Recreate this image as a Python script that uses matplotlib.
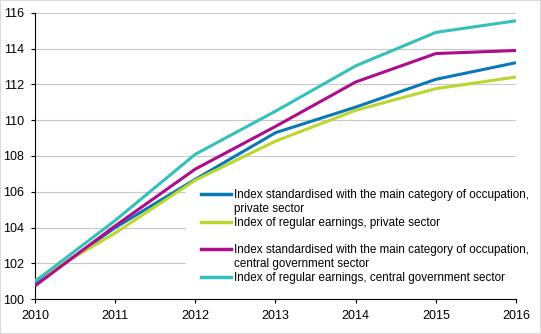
import matplotlib
matplotlib.use("Agg")
import matplotlib.pyplot as plt
from matplotlib.lines import Line2D
from matplotlib.patches import Rectangle

plt.rcParams['font.family'] = ['Liberation Sans', 'DejaVu Sans']

years = [2010, 2011, 2012, 2013, 2014, 2015, 2016]
std_private = [100.85, 104.0, 106.7, 109.3, 110.73, 112.28, 113.21]
reg_private = [101.05, 103.7, 106.65, 108.83, 110.55, 111.76, 112.41]
std_central = [100.75, 104.1, 107.27, 109.65, 112.13, 113.72, 113.89]
reg_central = [101.0, 104.4, 108.1, 110.5, 113.03, 114.9, 115.55]

label_rows = [
    ("Index standardised with the main category of occupation,", 0),
    ("private sector", None),
    ("Index of regular earnings, private sector", 1),
    ("", None),
    ("Index standardised with the main category of occupation,", 2),
    ("central government sector", None),
    ("Index of regular earnings, central government sector", 3),
]
colors = ["#0a77b8", "#bcd630", "#ad0d8b", "#34c0bb"]
series = [std_private, reg_private, std_central, reg_central]

W, H = 541, 334
L, R, T, B = 35, 516, 12.7, 299.3
fig = plt.figure(figsize=(W / 100, H / 100), dpi=100)
ax = fig.add_axes([L / W, 1 - B / H, (R - L) / W, (B - T) / H])

for vals, c in zip(series, colors):
    ax.plot(years, vals, color=c, lw=2.2, solid_capstyle='butt', zorder=3)

ax.set_xlim(2010, 2016)
ax.set_ylim(100, 116)
ax.set_yticks(range(100, 117, 2))
ax.set_xticks(years)
ax.grid(axis='y', color='#c8c8c8', lw=0.8)
ax.set_axisbelow(True)
for s in ['top', 'right']:
    ax.spines[s].set_visible(False)
for s in ['left', 'bottom']:
    ax.spines[s].set_color('black')
    ax.spines[s].set_linewidth(0.8)
ax.tick_params(axis='both', direction='out', length=3, width=0.8,
               labelsize=9, colors='black', pad=5)

# white legend area hides the gridlines but stays under the series lines
ax.add_patch(Rectangle((186 / W, 1 - B / H), (R - 186) / W, (B - 186) / H,
                       transform=fig.transFigure, facecolor='white',
                       edgecolor='none', zorder=1))

# legend: one row per text line, handle on the first line of each entry
handles, texts = [], []
for text, idx in label_rows:
    if idx is None:
        handles.append(Line2D([], [], color='none'))
    else:
        handles.append(Line2D([], [], color=colors[idx], lw=2.5))
    texts.append(text)

leg = ax.legend(
    handles, texts,
    loc='upper left', bbox_to_anchor=(186 / W, 1 - 174 / H),
    bbox_transform=fig.transFigure,
    frameon=False, fontsize=8.4,
    handlelength=2.57, handletextpad=0.25, labelspacing=0.15, borderpad=1.3,
    borderaxespad=0,
)
leg.set_zorder(4)

fig.patches.append(plt.Rectangle((0, 0), 1, 1, transform=fig.transFigure,
                                 fill=False, edgecolor='#d9d9d9', lw=1.5))

fig.savefig("out.png", dpi=100)
